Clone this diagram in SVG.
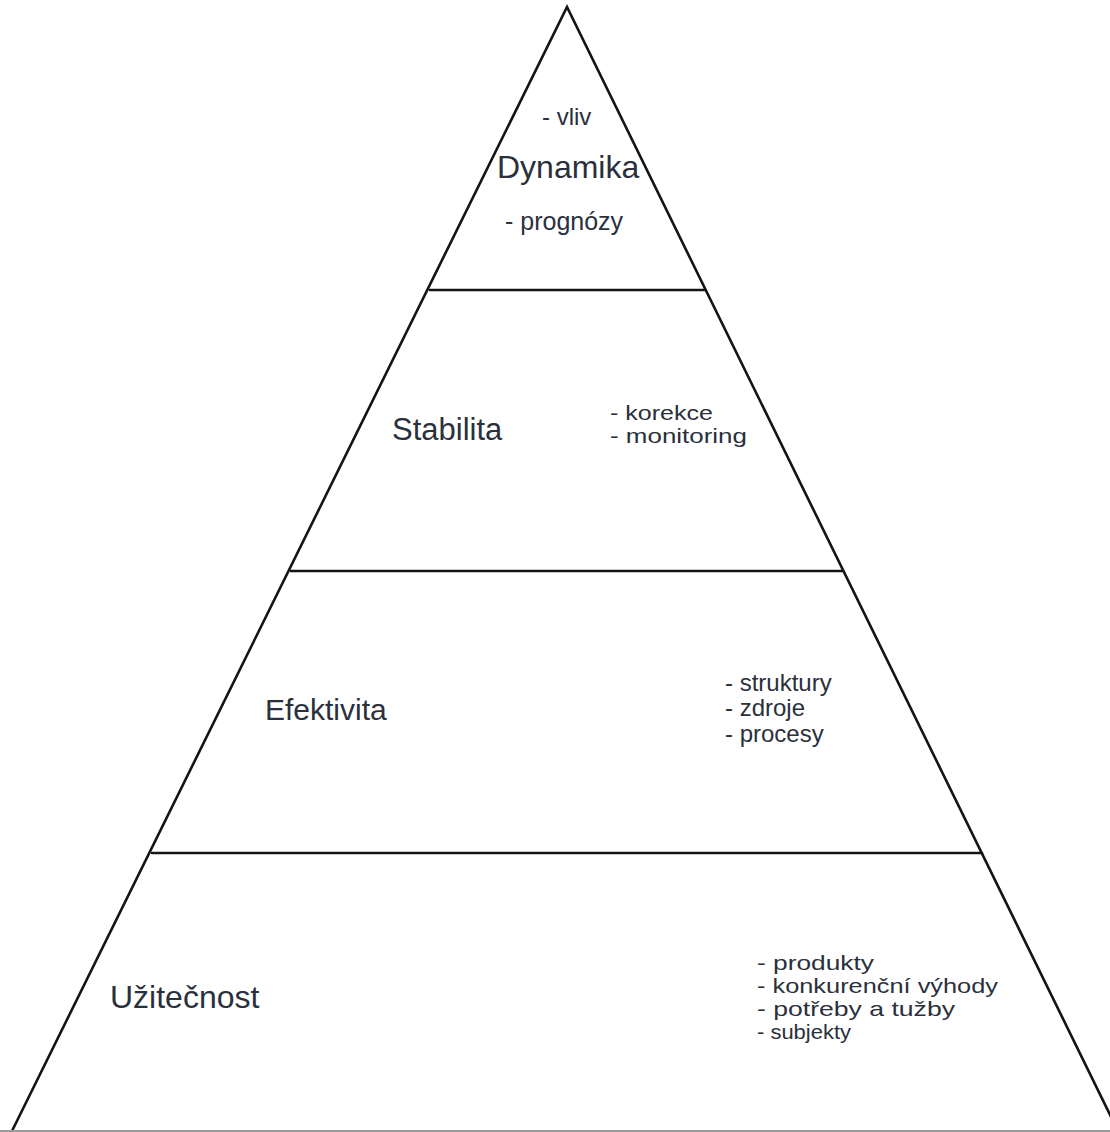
<svg xmlns="http://www.w3.org/2000/svg" width="1110" height="1132" viewBox="0 0 1110 1132">
<style>
.ln{stroke:#141414;stroke-width:2.6;fill:none;stroke-linecap:round}
.t{font-family:"Liberation Sans",Arial,sans-serif;fill:#2a303c}
.h{font-size:31px}
.i{font-size:24px}
.s{font-size:21px}
</style>
<rect width="1110" height="1132" fill="#ffffff"/>
<g id="outline">
<path class="ln" d="M12,1131 L567,7 L1118,1131"/>
<line x1="0" y1="1131" x2="1110" y2="1131" stroke="#9a9a9a" stroke-width="2"/>
<line class="ln" x1="430" y1="290" x2="705" y2="290"/>
<line class="ln" x1="291" y1="571" x2="843" y2="571"/>
<line class="ln" x1="152" y1="853" x2="982" y2="853"/>
</g>
<g id="dynamika">
<text class="t" x="542" y="125" font-size="24">- vliv</text>
<text class="t" x="497" y="178" font-size="32">Dynamika</text>
<text class="t" x="505" y="230" font-size="25">- prognózy</text>
</g>
<g id="stabilita">
<text class="t h" x="392" y="440">Stabilita</text>
<text class="t s" x="610" y="420" textLength="103" lengthAdjust="spacingAndGlyphs">- korekce</text>
<text class="t s" x="610" y="443" textLength="137" lengthAdjust="spacingAndGlyphs">- monitoring</text>
</g>
<g id="efektivita">
<text class="t" x="265" y="720" font-size="30">Efektivita</text>
<text class="t i" x="725" y="691">- struktury</text>
<text class="t i" x="725" y="716">- zdroje</text>
<text class="t i" x="725" y="742">- procesy</text>
</g>
<g id="uzitecnost">
<text class="t" x="110" y="1008" font-size="32">Užitečnost</text>
<text class="t s" x="757" y="970" textLength="117" lengthAdjust="spacingAndGlyphs">- produkty</text>
<text class="t s" x="757" y="993" textLength="241" lengthAdjust="spacingAndGlyphs">- konkurenční výhody</text>
<text class="t s" x="757" y="1016" textLength="198" lengthAdjust="spacingAndGlyphs">- potřeby a tužby</text>
<text class="t s" x="757" y="1039" textLength="94" lengthAdjust="spacingAndGlyphs">- subjekty</text>
</g>
</svg>
